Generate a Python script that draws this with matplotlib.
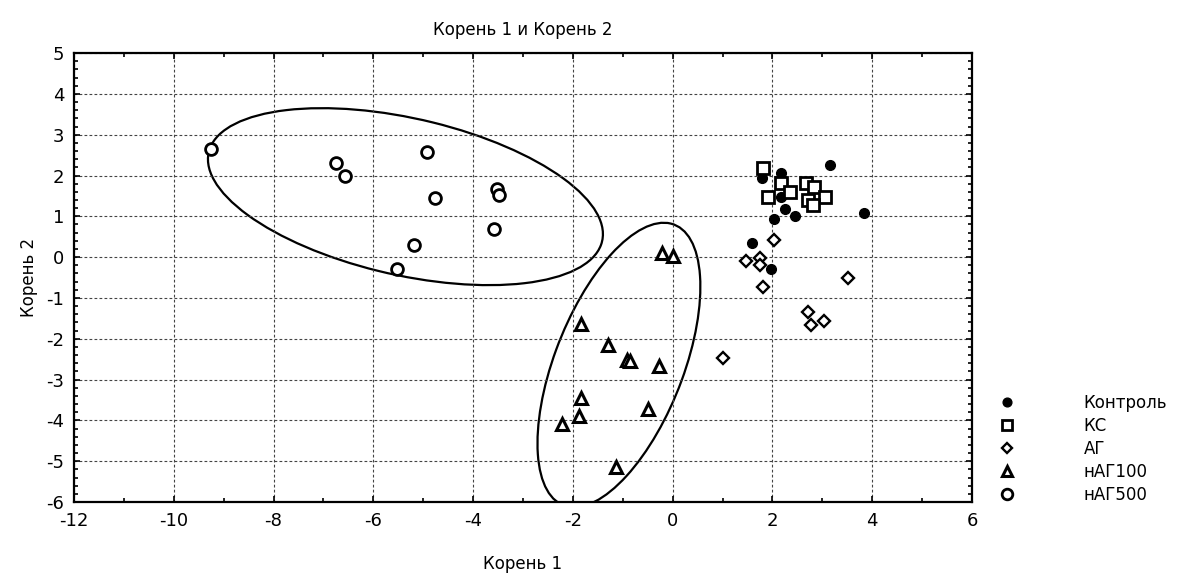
import numpy as np
import matplotlib.pyplot as plt
from matplotlib.patches import Ellipse
from matplotlib.ticker import MultipleLocator

plt.rcParams['font.family'] = ['DejaVu Sans']
plt.rcParams['axes.unicode_minus'] = False

# Корень 1 / Корень 2 по группам
control_x = [3.15, 2.18, 1.80, 2.18, 2.25, 2.45, 2.03, 3.83, 1.60, 1.97]
control_y = [2.25, 2.05, 1.93, 1.48, 1.19, 1.00, 0.93, 1.07, 0.35, -0.29]

ks_x = [1.81, 2.18, 2.35, 1.92, 2.67, 2.83, 3.05, 2.71, 2.82]
ks_y = [2.19, 1.81, 1.60, 1.48, 1.81, 1.72, 1.48, 1.40, 1.27]

ag_x = [2.03, 1.48, 1.75, 1.75, 1.81, 3.52, 2.71, 2.77, 3.04, 1.00]
ag_y = [0.42, -0.10, -0.03, -0.20, -0.74, -0.50, -1.34, -1.67, -1.56, -2.46]

nag100_x = [-0.22, 0.00, -1.83, -1.29, -0.92, -0.86, -0.27, -1.83, -0.49, -1.87, -2.21, -1.13]
nag100_y = [0.09, 0.02, -1.63, -2.16, -2.52, -2.55, -2.67, -3.45, -3.71, -3.90, -4.10, -5.15]

nag500_x = [-9.25, -6.74, -6.57, -4.93, -4.77, -3.53, -3.48, -3.58, -5.19, -5.52]
nag500_y = [2.64, 2.31, 1.99, 2.57, 1.46, 1.66, 1.52, 0.68, 0.29, -0.30]

labels = ["Контроль", "КС", "АГ", "нАГ100", "нАГ500"]


def cov_ellipse(x, y, k=2.2):
    # эллипс рассеяния по ковариации группы
    x = np.asarray(x)
    y = np.asarray(y)
    cov = np.cov(x, y)
    vals, vecs = np.linalg.eigh(cov)
    order = vals.argsort()[::-1]
    vals, vecs = vals[order], vecs[:, order]
    angle = np.degrees(np.arctan2(vecs[1, 0], vecs[0, 0]))
    w, h = 2 * k * np.sqrt(vals)
    return Ellipse((x.mean(), y.mean()), w, h, angle=angle,
                   fill=False, edgecolor='black', lw=1.6)


fig = plt.figure(figsize=(11.78, 5.77), dpi=100)
ax = fig.add_axes([0.0628, 0.130, 0.7623, 0.778])

ax.plot(control_x, control_y, 'o', ms=7, color='black', mec='black', label=labels[0])
ax.plot(ks_x, ks_y, 's', ms=8.5, mfc='white', mec='black', mew=2, label=labels[1])
ax.plot(ag_x, ag_y, 'D', ms=6, mfc='white', mec='black', mew=1.7, label=labels[2])
ax.plot(nag100_x, nag100_y, '^', ms=8.5, mfc='white', mec='black', mew=2.2, label=labels[3])
ax.plot(nag500_x, nag500_y, 'o', ms=8.5, mfc='white', mec='black', mew=2, label=labels[4])

ax.add_patch(cov_ellipse(nag100_x, nag100_y))
ax.add_patch(cov_ellipse(nag500_x, nag500_y))

ax.set_xlim(-12, 6)
ax.set_ylim(-6, 5)
ax.xaxis.set_major_locator(MultipleLocator(2))
ax.xaxis.set_minor_locator(MultipleLocator(1))
ax.yaxis.set_major_locator(MultipleLocator(1))
ax.yaxis.set_minor_locator(MultipleLocator(0.2))
ax.tick_params(which='both', direction='in', top=True, right=True, width=1.2)
ax.tick_params(which='major', length=4, labelsize=13, pad=7)
ax.tick_params(which='minor', length=3)
for s in ax.spines.values():
    s.set_linewidth(1.6)
ax.grid(True, which='major', linestyle=(0, (2.5, 2)), color='#444444', lw=0.8)

ax.set_title("Корень 1 и Корень 2", fontsize=12, pad=13)
ax.set_xlabel("Корень 1", fontsize=12, labelpad=18)
ax.set_ylabel("Корень 2", fontsize=12, labelpad=6)

fig.legend(loc='upper left', bbox_to_anchor=(0.835, 0.343), frameon=False,
           fontsize=12, handlelength=1, handletextpad=4.1, labelspacing=0.3,
           markerscale=0.9)

plt.savefig("out.png", dpi=100)
